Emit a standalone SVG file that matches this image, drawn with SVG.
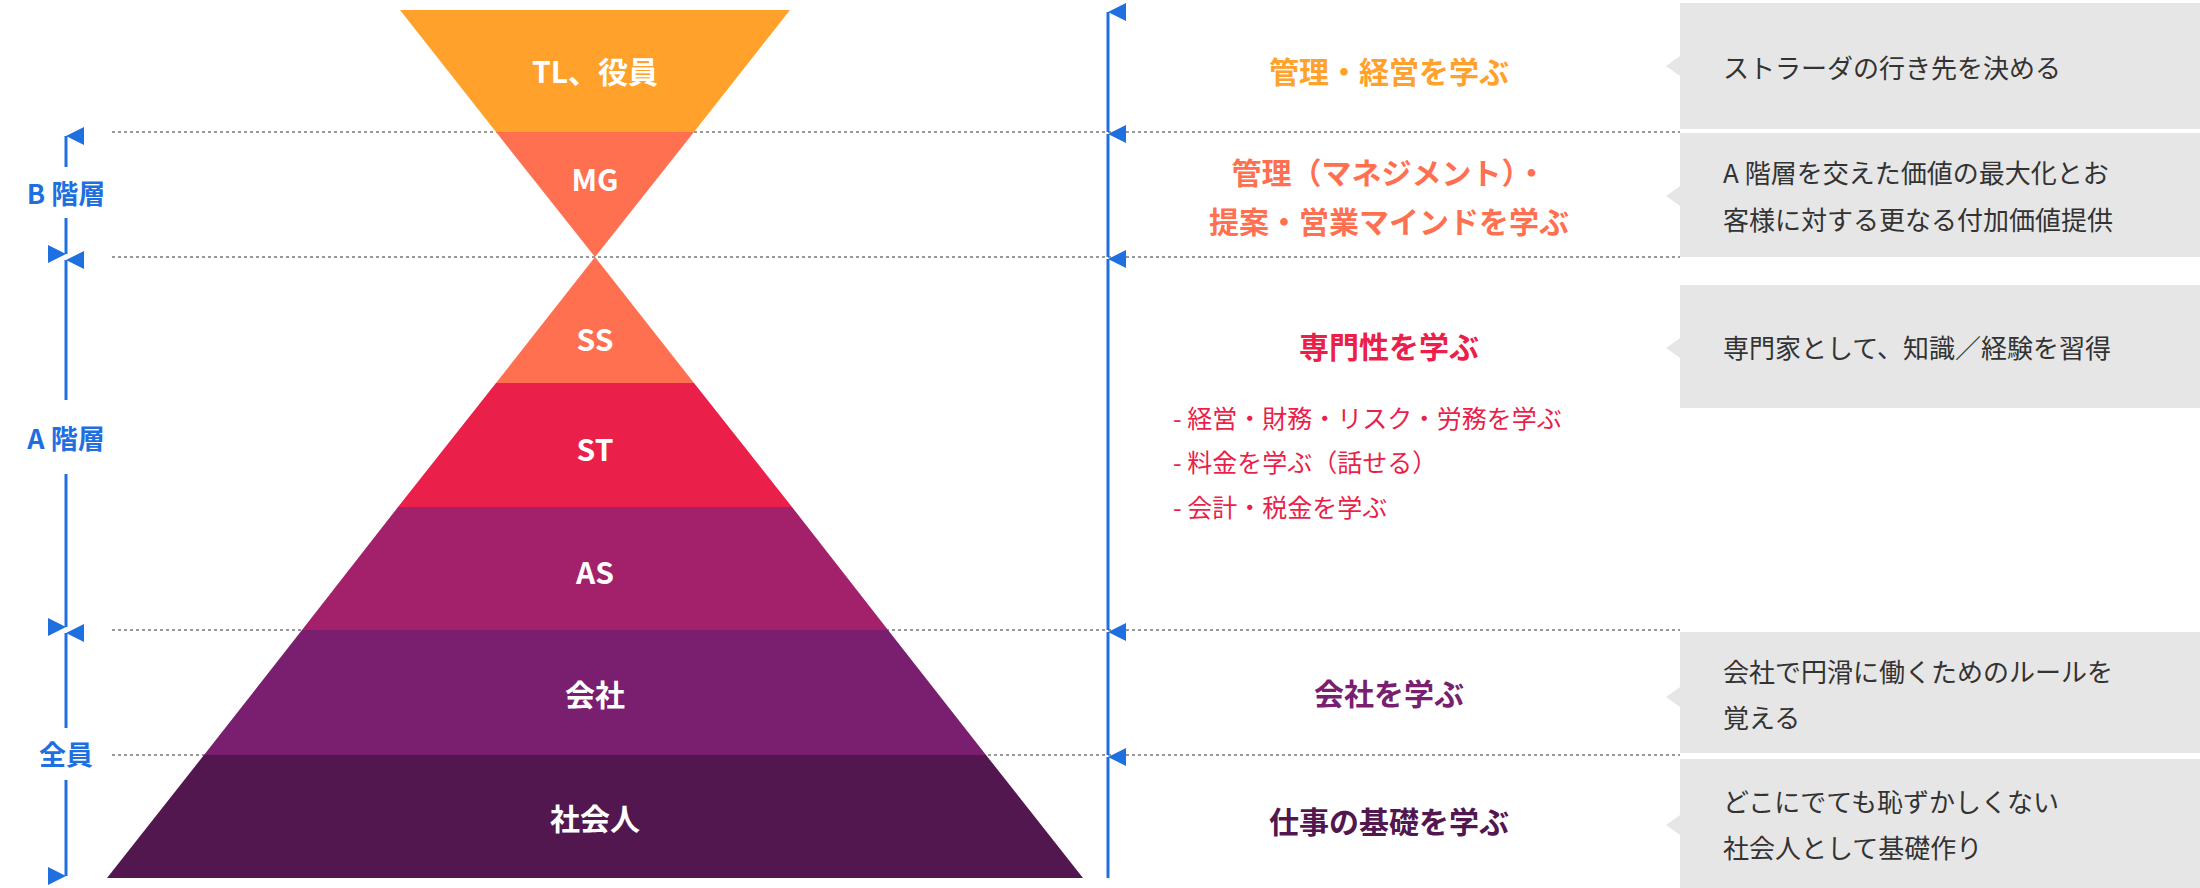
<svg xmlns="http://www.w3.org/2000/svg" width="2200" height="888" viewBox="0 0 2200 888">
<style>
.lbl{font-family:"Noto Sans CJK JP",sans-serif;font-weight:bold;font-size:30px;fill:#fff;text-anchor:middle;dominant-baseline:central}
.side{font-family:"Noto Sans CJK JP",sans-serif;font-weight:bold;font-size:27px;fill:#1e6fe0;text-anchor:middle;dominant-baseline:central}
.mid{font-family:"Noto Sans CJK JP",sans-serif;font-weight:bold;font-size:30px;text-anchor:middle;dominant-baseline:central}
.lst{font-family:"Noto Sans CJK JP",sans-serif;font-size:25px;fill:#ea1f4a;dominant-baseline:central}
.note{font-family:"Noto Sans CJK JP",sans-serif;font-size:26px;fill:#333;dominant-baseline:central}
.dot{stroke:#777;stroke-width:1.5;stroke-dasharray:3 3}
.ax{stroke:#1e6fe0;stroke-width:3;fill:none}
.box{fill:#e6e6e6}
</style>
<defs>
<marker id="ah" viewBox="0 0 10 10" refX="5" refY="0" markerWidth="6" markerHeight="6" orient="auto-start-reverse" markerUnits="strokeWidth"><path d="M0,10 L5,0 L10,10 Z" fill="#1e6fe0"/></marker>
</defs>
<g id="guides">
<line class="dot" x1="112" y1="132" x2="1680" y2="132"/>
<line class="dot" x1="112" y1="257" x2="1680" y2="257"/>
<line class="dot" x1="112" y1="630" x2="1680" y2="630"/>
<line class="dot" x1="112" y1="755" x2="1680" y2="755"/>
</g>
<g id="tl"><polygon points="400,10 790,10 694,132 496,132" fill="#ffa12b"/><text class="lbl" x="595" y="70">TL、役員</text></g>
<g id="mg"><polygon points="496,132 694,132 595,257" fill="#ff7050"/><text class="lbl" x="595" y="178">MG</text></g>
<g id="ss"><polygon points="595,257 694,383 496,383" fill="#ff7050"/><text class="lbl" x="595" y="338">SS</text></g>
<g id="st"><polygon points="496,383 694,383 792,507 398,507" fill="#ea1f4a"/><text class="lbl" x="595" y="448">ST</text></g>
<g id="as"><polygon points="398,507 792,507 888,630 302,630" fill="#a3216a"/><text class="lbl" x="595" y="571">AS</text></g>
<g id="kaisha"><polygon points="302,630 888,630 986,755 204,755" fill="#7a1e70"/><text class="lbl" x="595" y="693">会社</text></g>
<g id="shakaijin"><polygon points="204,755 986,755 1083,878 107,878" fill="#52174f"/><text class="lbl" x="595" y="817">社会人</text></g>
<g id="connectors">
<line class="ax" x1="66" y1="167" x2="66" y2="136" marker-end="url(#ah)"/>
<line class="ax" x1="66" y1="218" x2="66" y2="254" marker-end="url(#ah)"/>
<line class="ax" x1="66" y1="400" x2="66" y2="260" marker-end="url(#ah)"/>
<line class="ax" x1="66" y1="474" x2="66" y2="627" marker-end="url(#ah)"/>
<line class="ax" x1="66" y1="728" x2="66" y2="633" marker-end="url(#ah)"/>
<line class="ax" x1="66" y1="780" x2="66" y2="876" marker-end="url(#ah)"/>
<line class="ax" x1="1108" y1="132" x2="1108" y2="12" marker-end="url(#ah)"/>
<line class="ax" x1="1108" y1="257" x2="1108" y2="134" marker-end="url(#ah)"/>
<line class="ax" x1="1108" y1="630" x2="1108" y2="259" marker-end="url(#ah)"/>
<line class="ax" x1="1108" y1="755" x2="1108" y2="632" marker-end="url(#ah)"/>
<line class="ax" x1="1108" y1="878" x2="1108" y2="757" marker-end="url(#ah)"/>
</g>
<g id="sidelabels">
<text class="side" x="66" y="192">B 階層</text>
<text class="side" x="66" y="437">A 階層</text>
<text class="side" x="66" y="753">全員</text>
</g>
<g id="learn">
<text class="mid" x="1389" y="70" fill="#ffa12b">管理・経営を学ぶ</text>
<text class="mid" x="1389" y="171" fill="#ff7050">管理（マネジメント）・</text>
<text class="mid" x="1389" y="220" fill="#ff7050">提案・営業マインドを学ぶ</text>
<text class="mid" x="1389" y="345" fill="#ea1f4a">専門性を学ぶ</text>
<text class="lst" x="1173" y="417">- 経営・財務・リスク・労務を学ぶ</text>
<text class="lst" x="1173" y="461">- 料金を学ぶ（話せる）</text>
<text class="lst" x="1173" y="506">- 会計・税金を学ぶ</text>
<text class="mid" x="1389" y="692" fill="#7a1e70">会社を学ぶ</text>
<text class="mid" x="1389" y="820" fill="#52174f">仕事の基礎を学ぶ</text>
</g>
<g id="notes">
<path class="box" d="M1680,3 H2200 V129 H1680 V76 L1666,66 L1680,56 Z"/>
<text class="note" x="1723" y="66">ストラーダの行き先を決める</text>
<path class="box" d="M1680,133 H2200 V257 H1680 V206 L1666,196 L1680,186 Z"/>
<text class="note" x="1723" y="171">A 階層を交えた価値の最大化とお</text>
<text class="note" x="1723" y="218">客様に対する更なる付加価値提供</text>
<path class="box" d="M1680,285 H2200 V408 H1680 V358 L1666,348 L1680,338 Z"/>
<text class="note" x="1723" y="346">専門家として、知識／経験を習得</text>
<path class="box" d="M1680,632 H2200 V753 H1680 V707 L1666,697 L1680,687 Z"/>
<text class="note" x="1723" y="670">会社で円滑に働くためのルールを</text>
<text class="note" x="1723" y="716">覚える</text>
<path class="box" d="M1680,759 H2200 V888 H1680 V835 L1666,825 L1680,815 Z"/>
<text class="note" x="1723" y="800">どこにでても恥ずかしくない</text>
<text class="note" x="1723" y="846">社会人として基礎作り</text>
</g>
</svg>
